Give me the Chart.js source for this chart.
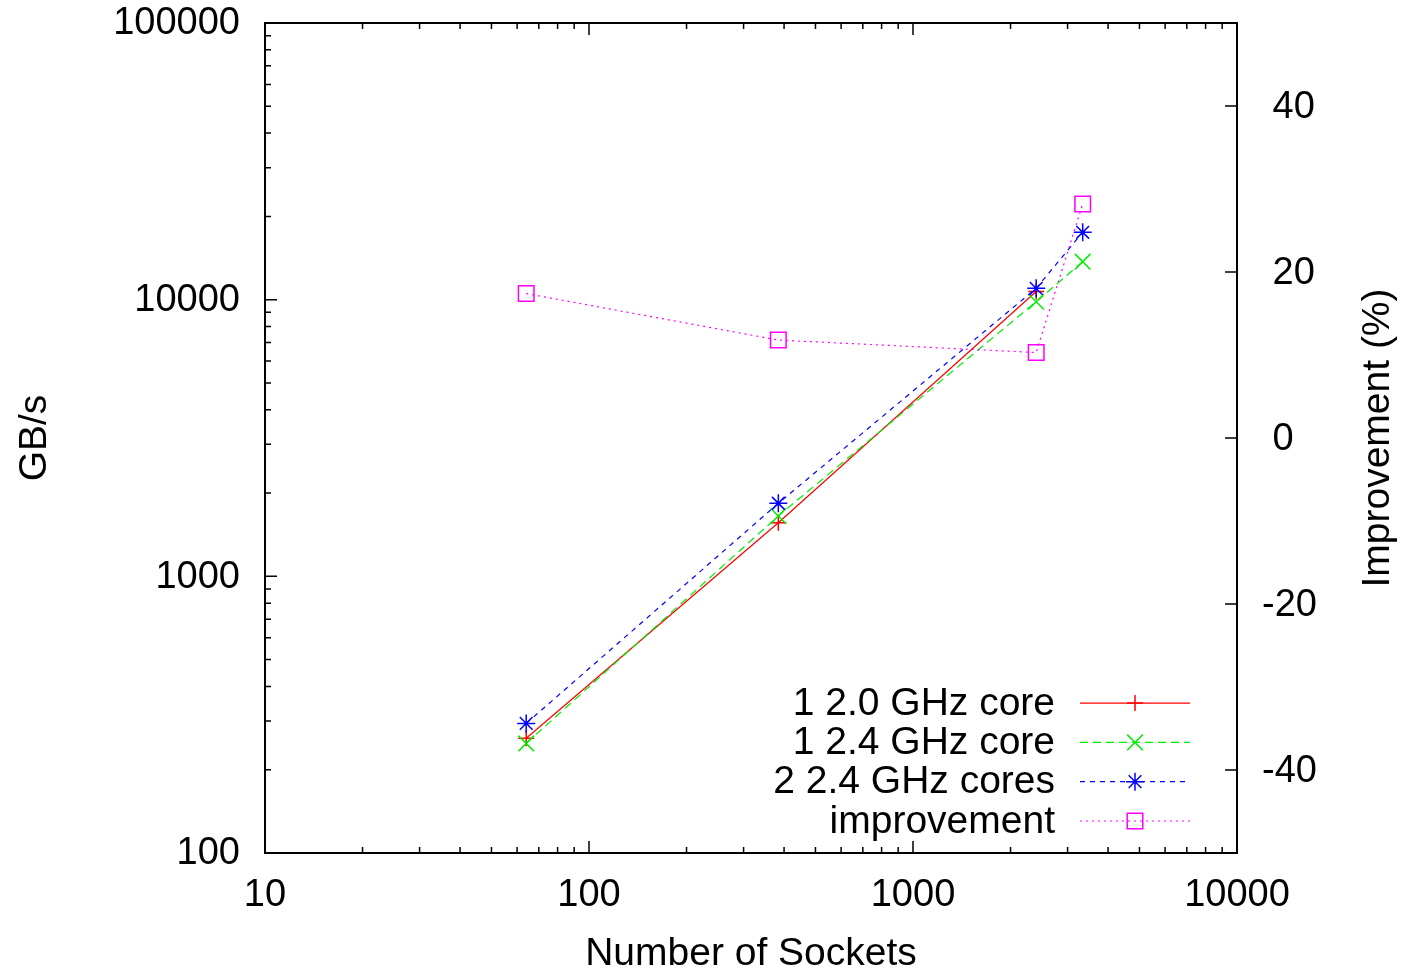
<!DOCTYPE html>
<html>
<head>
<meta charset="utf-8">
<script src="https://cdn.jsdelivr.net/npm/chart.js@4/dist/chart.umd.min.js"></script>
<style>
  body { margin: 0; background: #fff; }
  #wrap { width: 1403px; height: 973px; }
</style>
</head>
<body>
<div id="wrap"><canvas id="myChart"></canvas></div>
<script>
// values
const sockets = [64, 384, 2400, 3340];
const oneCore20 = [260, 1562, 10700];
const oneCore24 = [249, 1653, 9833, 13720];
const twoCores24 = [294, 1837, 10990, 17520];
const improvement = [17.4, 11.8, 10.3, 28.2];

const xTicks = [];
for (let e = 1; e <= 4; e++) for (let m = 1; m <= 9; m++) { if (e < 4 || m == 1) xTicks.push(m * Math.pow(10, e)); }
const yTicks = [];
for (let e = 2; e <= 5; e++) for (let m = 1; m <= 9; m++) { if (e < 5 || m == 1) yTicks.push(m * Math.pow(10, e)); }
const y2Ticks = [-40, -20, 0, 20, 40];

const FONT = '"Liberation Sans", Arial, sans-serif';
Chart.defaults.font.family = FONT;
Chart.defaults.font.size = 38;
Chart.defaults.color = '#000';

function isPow10(v) { const l = Math.log10(v); return Math.abs(l - Math.round(l)) < 1e-9; }
function pts(arr) { return arr.map((v, i) => ({x: sockets[i], y: v})); }

const datasets = [
    {label: '1 2.0 GHz core', data: pts(oneCore20), borderColor: '#ff0000', borderDash: [], pointStyle: 'cross', pointRadius: 8, yAxisID: 'y', order: 4},
    {label: '1 2.4 GHz core', data: pts(oneCore24), borderColor: '#00ee00', borderDash: [8, 5], pointStyle: 'crossRot', pointRadius: 11, yAxisID: 'y', order: 3},
    {label: '2 2.4 GHz cores', data: pts(twoCores24), borderColor: '#0000ff', borderDash: [5, 5], pointStyle: 'star', pointRadius: 9, yAxisID: 'y', order: 2},
    {label: 'improvement', data: pts(improvement), borderColor: '#ff00ff', borderDash: [2, 4], pointStyle: 'rect', pointRadius: 11, yAxisID: 'y2', order: 1}
];
datasets.forEach(d => {
    d.borderWidth = 1.2;
    d.pointBorderColor = d.borderColor;
    d.pointBackgroundColor = 'rgba(0,0,0,0)';
    d.pointBorderWidth = 1.5;
    d.pointHoverRadius = d.pointRadius;
    d.tension = 0;
    d.fill = false;
});

const frame = {
    id: 'frame',
    beforeDatasetsDraw(chart) {
        const {ctx, chartArea: a, scales} = chart;
        ctx.save();
        ctx.strokeStyle = '#000';
        ctx.lineWidth = 2;
        ctx.strokeRect(a.left, a.top, a.right - a.left, a.bottom - a.top);
        ctx.lineWidth = 1.5;
        ctx.beginPath();
        scales.x.ticks.forEach(t => {
            const px = scales.x.getPixelForValue(t.value);
            const len = isPow10(t.value) ? 12 : 6;
            ctx.moveTo(px, a.bottom); ctx.lineTo(px, a.bottom - len);
            ctx.moveTo(px, a.top); ctx.lineTo(px, a.top + len);
        });
        scales.y.ticks.forEach(t => {
            const py = scales.y.getPixelForValue(t.value);
            const len = isPow10(t.value) ? 12 : 6;
            ctx.moveTo(a.left, py); ctx.lineTo(a.left + len, py);
        });
        scales.y2.ticks.forEach(t => {
            const py = scales.y2.getPixelForValue(t.value);
            ctx.moveTo(a.right, py); ctx.lineTo(a.right - 12, py);
        });
        ctx.stroke();
        // right axis title, reads bottom to top
        ctx.fillStyle = '#000';
        ctx.font = '39px ' + FONT;
        ctx.textAlign = 'center';
        ctx.textBaseline = 'middle';
        ctx.translate(1378, (a.top + a.bottom) / 2);
        ctx.rotate(-Math.PI / 2);
        ctx.fillText('Improvement (%)', 0, 0);
        ctx.restore();
    },
    afterDatasetsDraw(chart) {
        const {ctx, chartArea: a} = chart;
        ctx.save();
        ctx.font = '39px ' + FONT;
        ctx.textAlign = 'right';
        ctx.textBaseline = 'middle';
        chart.data.datasets.forEach((ds, i) => {
            const y = a.bottom - 32 - (3 - i) * 39.3;
            ctx.fillStyle = '#000';
            ctx.fillText(ds.label, a.right - 182, y + 1);
            ctx.strokeStyle = ds.borderColor;
            ctx.lineWidth = ds.borderWidth;
            ctx.setLineDash(ds.borderDash);
            ctx.beginPath();
            ctx.moveTo(a.right - 157, y);
            ctx.lineTo(a.right - 47, y);
            ctx.stroke();
            ctx.setLineDash([]);
            ctx.fillStyle = 'rgba(0,0,0,0)';
            ctx.lineWidth = ds.pointBorderWidth;
            Chart.helpers.drawPoint(ctx, {pointStyle: ds.pointStyle, radius: ds.pointRadius, borderWidth: ds.pointBorderWidth, rotation: 0}, a.right - 102, y);
        });
        ctx.restore();
    }
};

function noVPad(s) { s.paddingTop = 0; s.paddingBottom = 0; }

new Chart(document.getElementById('myChart'),
{
    type: 'line',
    data: {datasets: datasets},
    plugins: [frame],
    options:
    {
        responsive: true,
        maintainAspectRatio: false,
        animation: false,
        layout: {padding: {top: 23, left: 0, right: 0, bottom: 0}},
        plugins: {legend: {display: false}, tooltip: {enabled: false}},
        scales:
        {
            x: {
                type: 'logarithmic', min: 10, max: 10000, position: 'bottom',
                grid: {display: false, drawTicks: false}, border: {display: false},
                afterBuildTicks: s => { s.ticks = xTicks.map(v => ({value: v})); },
                afterFit: s => { s.height = 120; s.paddingLeft = 0; s.paddingRight = 0; },
                ticks: {autoSkip: false, maxRotation: 0, padding: 20, callback: v => isPow10(v) ? String(v) : ''},
                title: {display: true, text: 'Number of Sockets', font: {size: 39}, padding: {top: 0, bottom: -5}}
            },
            y: {
                type: 'logarithmic', min: 100, max: 100000, position: 'left',
                grid: {display: false, drawTicks: false}, border: {display: false},
                afterBuildTicks: s => { s.ticks = yTicks.map(v => ({value: v})); },
                afterFit: s => { s.width = 265; noVPad(s); },
                ticks: {autoSkip: false, padding: 25, labelOffset: 1, callback: v => isPow10(v) ? String(v) : ''},
                title: {display: true, text: 'GB/s', font: {size: 39}, padding: {top: 12, bottom: 0}}
            },
            y2: {
                type: 'linear', min: -50, max: 50, position: 'right',
                grid: {display: false, drawTicks: false}, border: {display: false},
                afterBuildTicks: s => { s.ticks = y2Ticks.map(v => ({value: v})); },
                afterFit: s => { s.width = 166; noVPad(s); },
                // gnuplot-style format leaves a blank where the minus sign would go
                ticks: {autoSkip: false, padding: 25, labelOffset: 2, callback: v => (v < 0 ? '' : ' ') + String(v)}
            }
        }
    }
});
</script>
</body>
</html>
